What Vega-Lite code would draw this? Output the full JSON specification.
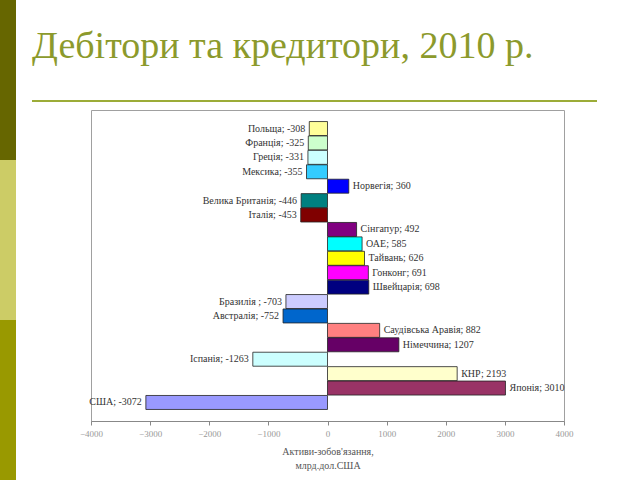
{
  "$schema": "https://vega.github.io/schema/vega-lite/v6.json",
  "width": 473,
  "height": 311,
  "autosize": {"type": "none"},
  "padding": {"left": 91, "top": 110, "right": 76, "bottom": 59},
  "background": "white",
  "title": {
    "text": "Дебітори та кредитори, 2010 р.",
    "anchor": "start",
    "frame": "group",
    "dx": -59,
    "offset": -96,
    "baseline": "alphabetic",
    "font": "Liberation Serif",
    "fontSize": 38,
    "fontWeight": "normal",
    "color": "#8c9a2c"
  },
  "config": {
    "view": {"stroke": "#a0a0a0", "strokeWidth": 1},
    "font": "Liberation Serif"
  },
  "data": {
    "values": [
      {"country": "Польща", "value": -308, "label": "Польща; -308"},
      {"country": "Франція", "value": -325, "label": "Франція; -325"},
      {"country": "Греція", "value": -331, "label": "Греція; -331"},
      {"country": "Мексика", "value": -355, "label": "Мексика; -355"},
      {"country": "Норвегія", "value": 360, "label": "Норвегія; 360"},
      {"country": "Велика Британія", "value": -446, "label": "Велика Британія; -446"},
      {"country": "Італія", "value": -453, "label": "Італія; -453"},
      {"country": "Сінгапур", "value": 492, "label": "Сінгапур; 492"},
      {"country": "ОАЕ", "value": 585, "label": "ОАЕ; 585"},
      {"country": "Тайвань", "value": 626, "label": "Тайвань; 626"},
      {"country": "Гонконг", "value": 691, "label": "Гонконг; 691"},
      {"country": "Швейцарія", "value": 698, "label": "Швейцарія; 698"},
      {"country": "Бразилія", "value": -703, "label": "Бразилія ; -703"},
      {"country": "Австралія", "value": -752, "label": "Австралія; -752"},
      {"country": "Саудівська Аравія", "value": 882, "label": "Саудівська Аравія; 882"},
      {"country": "Німеччина", "value": 1207, "label": "Німеччина; 1207"},
      {"country": "Іспанія", "value": -1263, "label": "Іспанія; -1263"},
      {"country": "КНР", "value": 2193, "label": "КНР; 2193"},
      {"country": "Японія", "value": 3010, "label": "Японія; 3010"},
      {"country": "США", "value": -3072, "label": "США; -3072"}
    ]
  },
  "layer": [
    {
      "mark": {"type": "bar", "stroke": "#222222", "strokeWidth": 0.8},
      "encoding": {
        "y": {
          "field": "country",
          "type": "nominal",
          "sort": null,
          "axis": null,
          "scale": {"paddingInner": 0.03, "paddingOuter": 0.8}
        },
        "x": {
          "field": "value",
          "type": "quantitative",
          "scale": {"domain": [-4000, 4000], "nice": false},
          "axis": {
            "values": [-4000, -3000, -2000, -1000, 0, 1000, 2000, 3000, 4000],
            "format": "d",
            "grid": false,
            "domainColor": "#888888",
            "tickColor": "#888888",
            "tickSize": 4,
            "labelColor": "#999999",
            "labelFont": "Liberation Serif",
            "labelFontSize": 9,
            "labelPadding": 4,
            "labelFlush": false,
            "title": ["Активи-зобов'язання,", "млрд.дол.США"],
            "titleFont": "Liberation Serif",
            "titleFontSize": 10,
            "titleFontWeight": "normal",
            "titleColor": "#555555",
            "titlePadding": 8,
            "titleLineHeight": 14
          }
        },
        "color": {
          "field": "country",
          "type": "nominal",
          "legend": null,
          "scale": {
            "domain": ["Польща", "Франція", "Греція", "Мексика", "Норвегія", "Велика Британія", "Італія", "Сінгапур", "ОАЕ", "Тайвань", "Гонконг", "Швейцарія", "Бразилія", "Австралія", "Саудівська Аравія", "Німеччина", "Іспанія", "КНР", "Японія", "США"],
            "range": ["#FFFF99", "#CCFFCC", "#CCFFFF", "#33CCFF", "#0000FF", "#008080", "#800000", "#800080", "#00FFFF", "#FFFF00", "#FF00FF", "#000080", "#CCCCFF", "#0066CC", "#FF8080", "#660066", "#CCFFFF", "#FFFFCC", "#993366", "#9999FF"]
          }
        }
      }
    },
    {
      "transform": [{"filter": "datum.value < 0"}],
      "mark": {"type": "text", "align": "right", "baseline": "middle", "dx": -4, "fontSize": 10, "color": "#333333", "font": "Liberation Serif"},
      "encoding": {
        "y": {"field": "country", "type": "nominal", "sort": null},
        "x": {"field": "value", "type": "quantitative"},
        "text": {"field": "label"}
      }
    },
    {
      "transform": [{"filter": "datum.value >= 0"}],
      "mark": {"type": "text", "align": "left", "baseline": "middle", "dx": 4, "fontSize": 10, "color": "#333333", "font": "Liberation Serif"},
      "encoding": {
        "y": {"field": "country", "type": "nominal", "sort": null},
        "x": {"field": "value", "type": "quantitative"},
        "text": {"field": "label"}
      }
    },
    {
      "mark": {"type": "rect", "x": -91, "x2": -75, "y": -110, "y2": 50, "color": "#666600"},
      "encoding": {}
    },
    {
      "mark": {"type": "rect", "x": -91, "x2": -75, "y": 50, "y2": 210, "color": "#CCCC66"},
      "encoding": {}
    },
    {
      "mark": {"type": "rect", "x": -91, "x2": -75, "y": 210, "y2": 370, "color": "#999900"},
      "encoding": {}
    },
    {
      "mark": {"type": "rect", "x": -59, "x2": 506, "y": -10, "y2": -8, "color": "#9cac38"},
      "encoding": {}
    }
  ]
}
